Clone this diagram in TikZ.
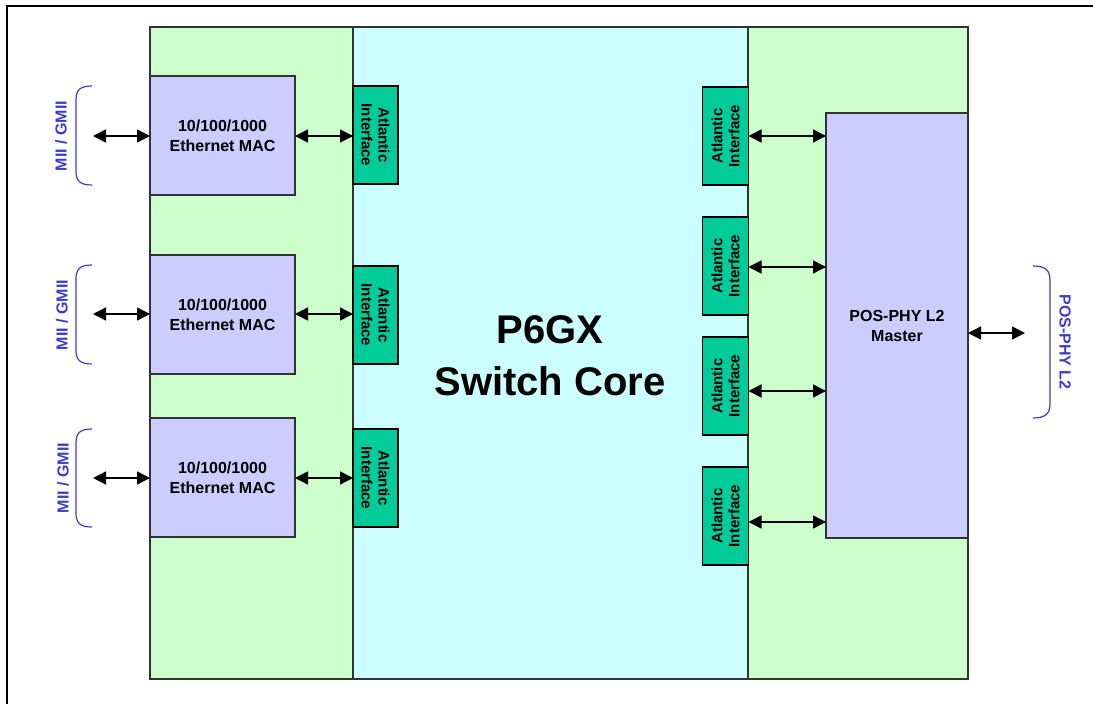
\documentclass[tikz,border=0pt]{standalone}
\usepackage{fontspec}
\setmainfont{Liberation Sans}
\usetikzlibrary{arrows.meta}
\definecolor{bggreen}{HTML}{CCFFCC}
\definecolor{corecyan}{HTML}{CCFFFF}
\definecolor{maclav}{HTML}{CCCCFF}
\definecolor{atlteal}{HTML}{00CC99}
\definecolor{extblue}{HTML}{3C3CCC}
\definecolor{edge}{HTML}{333333}
\begin{document}
\begin{tikzpicture}[x=1pt,y=-1pt,
  region/.style={draw=edge,line width=1.2pt,inner sep=0pt,outer sep=0pt},
  macbox/.style={draw=edge,line width=1.2pt,fill=maclav,minimum width=145pt,minimum height=119pt,
    inner sep=0pt,outer sep=0pt,align=center,font=\bfseries\fontsize{16}{20}\selectfont},
  atlbox/.style={draw=black,line width=1.2pt,fill=atlteal,minimum width=46pt,minimum height=98pt,
    inner sep=0pt,outer sep=0pt,align=center,font=\bfseries\fontsize{15}{17}\selectfont},
  atltext/.style={align=center,font=\bfseries\fontsize{15}{17}\selectfont,inner sep=0pt},
  biarrow/.style={{Triangle[length=13pt,width=13pt]}-{Triangle[length=13pt,width=13pt]},line width=1.5pt,black},
  bracket/.style={draw=extblue,line width=1.2pt},
  extlabel/.style={text=extblue,font=\bfseries\fontsize{16}{20}\selectfont,inner sep=0pt}
]
\useasboundingbox (0,0) rectangle (1093,704);
% outer frame
\draw[line width=2.2pt,black] (7,704) -- (7,6) -- (1093,6);
% regions
\node[region,fill=bggreen,minimum width=818pt,minimum height=652pt] (bg) at (559,353) {};
\node[region,fill=corecyan,minimum width=395pt,minimum height=652pt] (core) at (550.5,353) {};
\node[align=center,font=\bfseries\fontsize{40}{52}\selectfont,inner sep=0pt] (title) at (550,356) {P6GX\\Switch Core};
% MACs
\node[macbox] (mac1) at (222.5,135.5) {10/100/1000\\Ethernet MAC};
\node[macbox] (mac2) at (222.5,314.5) {10/100/1000\\Ethernet MAC};
\node[macbox] (mac3) at (222.5,477.5) {10/100/1000\\Ethernet MAC};
% left Atlantic
\node[atlbox,minimum width=45pt] (la1) at (375.5,135) {}; \node[atltext,rotate=-90] (la1t) at (la1) {Atlantic\\Interface};
\node[atlbox,minimum width=45pt] (la2) at (375.5,315) {}; \node[atltext,rotate=-90] (la2t) at (la2) {Atlantic\\Interface};
\node[atlbox,minimum width=45pt] (la3) at (375.5,478) {}; \node[atltext,rotate=-90] (la3t) at (la3) {Atlantic\\Interface};
% right Atlantic
\node[atlbox] (ra1) at (725.5,136) {}; \node[atltext,rotate=90] (ra1t) at (ra1) {Atlantic\\Interface};
\node[atlbox] (ra2) at (725.5,266) {}; \node[atltext,rotate=90] (ra2t) at (ra2) {Atlantic\\Interface};
\node[atlbox] (ra3) at (725.5,386) {}; \node[atltext,rotate=90] (ra3t) at (ra3) {Atlantic\\Interface};
\node[atlbox] (ra4) at (725.5,516) {}; \node[atltext,rotate=90] (ra4t) at (ra4) {Atlantic\\Interface};
% POS-PHY master
\node[macbox,minimum width=142pt,minimum height=425pt] (pos) at (897,325.5) {\raisebox{-6pt}{\parbox{140pt}{\centering POS-PHY L2\\Master}}};
% MAC <-> Atlantic
\draw[biarrow] (mac1.east |- 0,136) -- (la1.west |- 0,136);
\draw[biarrow] (mac2.east |- 0,314) -- (la2.west |- 0,314);
\draw[biarrow] (mac3.east |- 0,478) -- (la3.west |- 0,478);
% external left
\coordinate (e1) at (93,136);
\coordinate (e2) at (93,314);
\coordinate (e3) at (93,478);
\draw[biarrow] (e1) -- (mac1.west |- e1);
\draw[biarrow] (e2) -- (mac2.west |- e2);
\draw[biarrow] (e3) -- (mac3.west |- e3);
% Atlantic <-> POS
\draw[biarrow] (ra1.east |- 0,136) -- (pos.west |- 0,136);
\draw[biarrow] (ra2.east |- 0,267) -- (pos.west |- 0,267);
\draw[biarrow] (ra3.east |- 0,391) -- (pos.west |- 0,391);
\draw[biarrow] (ra4.east |- 0,522) -- (pos.west |- 0,522);
% external right
\coordinate (er) at (1025,333);
\draw[biarrow] (pos.east |- er) -- (er);
% left brackets
\foreach \t/\b in {86/185,265/364,429/527}{
  \draw[bracket] (92,\t) .. controls (80,\t) and (76,\t+4) .. (76,\t+14) -- (76,\b-14) .. controls (76,\b-4) and (80,\b) .. (92,\b);
}
\node[extlabel,rotate=90] (l1) at (61,136) {MII / GMII};
\node[extlabel,rotate=90] (l2) at (62,315) {MII / GMII};
\node[extlabel,rotate=90] (l3) at (63,478) {MII / GMII};
% right bracket
\draw[bracket] (1033,266) .. controls (1045,266) and (1050,270) .. (1050,280) -- (1050,404) .. controls (1050,414) and (1045,418) .. (1033,418);
\node[extlabel,rotate=-90] (lr) at (1065,342) {POS-PHY L2};
\end{tikzpicture}
\end{document}
